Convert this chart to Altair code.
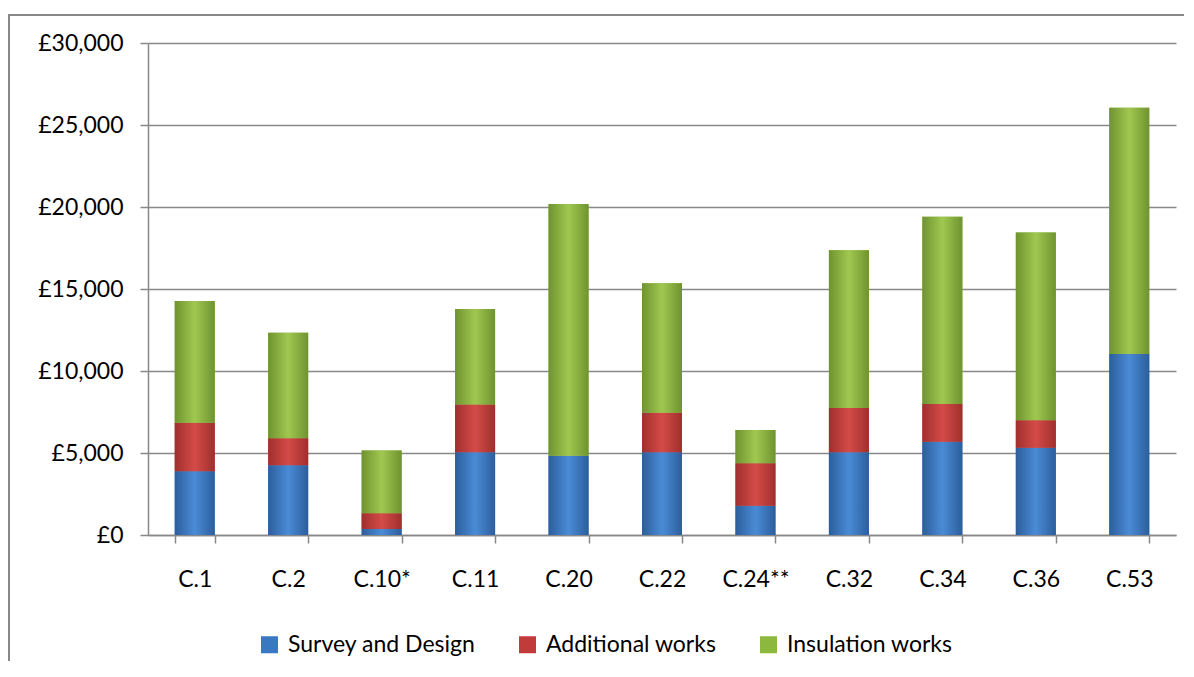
import altair as alt
import pandas as pd

categories = ["C.1", "C.2", "C.10*", "C.11", "C.20", "C.22", "C.24**", "C.32", "C.34", "C.36", "C.53"]
series_names = ["Survey and Design", "Additional works", "Insulation works"]
survey_design = [3880, 4250, 370, 5050, 4830, 5050, 1790, 5050, 5690, 5320, 11040]
additional_works = [2970, 1650, 950, 2900, 0, 2410, 2580, 2700, 2300, 1680, 0]
insulation_works = [7420, 6430, 3840, 5830, 15350, 7890, 2030, 9620, 11410, 11450, 15010]
y_ticks = [0, 5000, 10000, 15000, 20000, 25000, 30000]

flat_colors = ["#3A78C2", "#C23B3B", "#8CB83E"]
edge_colors = ["#2C5E9C", "#A02F2D", "#6F9330"]
mid_colors = ["#4A8BD6", "#D44B48", "#A0C850"]

rows = []
for i, c in enumerate(categories):
    for k, vals in enumerate([survey_design, additional_works, insulation_works]):
        rows.append({"cat": c, "series": series_names[k], "order": k, "value": vals[i]})
df = pd.DataFrame(rows)

W, H = 1028, 492
FONT = "Lato"
GRAY = "#888888"

base = alt.Chart(df).transform_stack(
    stack="value", groupby=["cat"], as_=["y0", "y1"],
    sort=[alt.SortField(field="order", order="ascending")]
)

x_enc = alt.X(
    "cat:N", sort=categories,
    scale=alt.Scale(paddingInner=0.572, paddingOuter=0.286),
    axis=alt.Axis(title=None, labelAngle=0, tickBand="extent", tickSize=8,
                  tickColor=GRAY, tickWidth=1.5, domainColor=GRAY, domainWidth=1.5,
                  labelFont=FONT, labelFontSize=23, labelColor="#000000",
                  labelPadding=25, grid=False),
)
y_enc = alt.Y(
    "y0:Q",
    scale=alt.Scale(domain=[0, 30000], nice=False),
    axis=alt.Axis(values=y_ticks, title=None,
                  labelExpr="'£' + format(datum.value, ',')",
                  tickSize=8, tickColor=GRAY, tickWidth=1.5,
                  domainColor=GRAY, domainWidth=1.5,
                  grid=True, gridColor=GRAY, gridWidth=1.5,
                  labelFont=FONT, labelFontSize=23, labelColor="#000000",
                  labelPadding=17),
)

frame_data = pd.DataFrame({"a": [0]})
frame_left = alt.Chart(frame_data).mark_rule(stroke=GRAY, strokeWidth=2).encode(
    x=alt.value(-139), y=alt.value(-28), y2=alt.value(H + 200),
)
frame_top = alt.Chart(frame_data).mark_rule(stroke=GRAY, strokeWidth=2).encode(
    x=alt.value(-140), x2=alt.value(W + 200), y=alt.value(-28),
)

legend_layer = base.mark_bar().encode(
    x=x_enc, y=y_enc, y2="y1:Q",
    color=alt.Color(
        "series:N",
        scale=alt.Scale(domain=series_names, range=flat_colors),
        legend=alt.Legend(
            title=None, orient="none", legendX=110, legendY=590,
            direction="horizontal", symbolType="square", symbolSize=289,
            symbolStrokeWidth=0, labelFont=FONT, labelFontSize=23,
            labelColor="#000000", columnPadding=40, labelOffset=7,
            padding=0, labelLimit=400,
        ),
    ),
)

grad_layers = []
for k in range(3):
    grad = alt.Gradient(
        gradient="linear", x1=0, x2=1, y1=0, y2=0,
        stops=[
            alt.GradientStop(color=edge_colors[k], offset=0),
            alt.GradientStop(color=mid_colors[k], offset=0.5),
            alt.GradientStop(color=edge_colors[k], offset=1),
        ],
    )
    grad_layers.append(
        base.transform_filter(alt.datum.order == k).transform_filter(alt.datum.value > 0)
        .mark_bar(fill=grad)
        .encode(x=x_enc, y=y_enc, y2="y1:Q")
    )

chart = alt.layer(frame_left, frame_top, legend_layer, *grad_layers).properties(
    width=W, height=H,
    autosize=alt.AutoSizeParams(type="none"),
    padding={"left": 140, "top": 35, "right": 8, "bottom": 126},
    background="white",
).configure_view(stroke="transparent", strokeWidth=0)

chart.save("out.html", embed_options={"renderer": "svg", "actions": False})
